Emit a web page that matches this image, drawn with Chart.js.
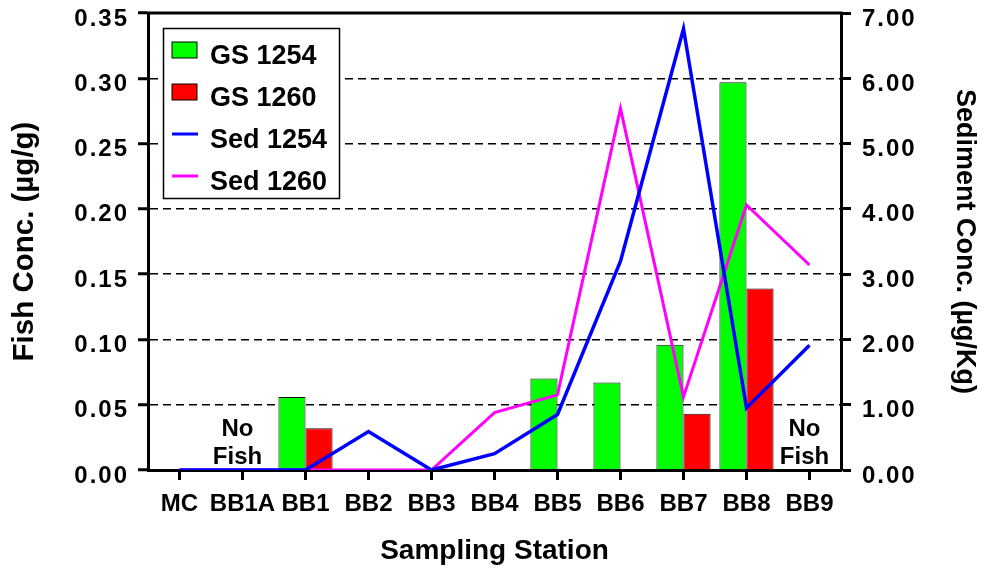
<!DOCTYPE html>
<html>
<head>
<meta charset="utf-8">
<script src="https://cdn.jsdelivr.net/npm/chart.js@4/dist/chart.umd.min.js"></script>
<style>
html,body{margin:0;padding:0;background:#fff;}
canvas{display:block;}
</style>
</head>
<body>
<canvas id="c" width="985" height="571"></canvas>
<script>
// ---- Data ----
const stations = ['MC','BB1A','BB1','BB2','BB3','BB4','BB5','BB6','BB7','BB8','BB9'];
const gs1254  = [null, null, 0.056, null, null, null, 0.070, 0.067, 0.096, 0.297, null];
const gs1260  = [null, null, 0.032, null, null, null, null,  null,  0.043, 0.139, null];
const sed1254 = [0, 0, 0, 0.59, 0, 0.25, 0.85, 3.20, 6.76, 0.95, 1.91];
const sed1260 = [0, 0, 0, 0, 0, 0.88, 1.15, 5.54, 1.12, 4.06, 3.14];
const seriesNames = ['GS 1254', 'GS 1260', 'Sed 1254', 'Sed 1260'];
const noFishStations = ['BB1A', 'BB9'];
const noFishText = ['No', 'Fish'];
const xTitle = 'Sampling Station';
const yLeftTitle = 'Fish Conc. (µg/g)';
const yRightTitle = 'Sediment Conc. (µg/Kg)';

const FONT = "'Liberation Sans', Arial, Helvetica, sans-serif";
Chart.defaults.font.family = FONT;
Chart.defaults.font.weight = 'bold';
Chart.defaults.color = '#000';

const COLORS = {gs1254:'#00ff00', gs1260:'#ff0000', sed1254:'#0000ff', sed1260:'#ff00ff'};

// letter spacing for y tick labels
const spacingPlugin = {
  id: 'spacing',
  beforeDraw(chart) {
    ['y', 'y1'].forEach(id => {
      const s = chart.scales[id];
      if (s && !s._spPatched) {
        const orig = s.drawLabels.bind(s);
        s.drawLabels = function(area) {
          const c = this.ctx; c.save(); c.letterSpacing = '2px'; orig(area); c.restore();
        };
        s._spPatched = true;
      }
    });
  }
};

// "No Fish" annotations
const noFishPlugin = {
  id: 'nofish',
  afterDatasetsDraw(chart) {
    const {ctx, scales:{x, y}} = chart;
    ctx.save();
    ctx.font = 'bold 24px ' + FONT;
    ctx.fillStyle = '#000'; ctx.textAlign = 'center'; ctx.textBaseline = 'middle';
    noFishStations.forEach(st => {
      const px = x.getPixelForValue(stations.indexOf(st)) - 5;
      ctx.fillText(noFishText[0], px, y.bottom - 41);
      ctx.fillText(noFishText[1], px, y.bottom - 13);
    });
    ctx.restore();
  }
};

// boxed legend inside plot + top frame line
const legendPlugin = {
  id: 'boxLegend',
  afterDatasetsDraw(chart) {
    const {ctx, chartArea:a} = chart;
    ctx.save();
    // top border of plot area
    ctx.fillStyle = '#000';
    ctx.fillRect(a.left - 1.5, a.top - 1.5, (a.right - a.left) + 3, 3);

    const bx = a.left + 15.5, by = a.top + 15.5, bw = 176, bh = 170;
    ctx.fillStyle = '#fff'; ctx.fillRect(bx, by, bw, bh);
    ctx.strokeStyle = '#000'; ctx.lineWidth = 1.5; ctx.strokeRect(bx, by, bw, bh);
    const items = [
      {name: seriesNames[0], kind:'box', color: COLORS.gs1254},
      {name: seriesNames[1], kind:'box', color: COLORS.gs1260},
      {name: seriesNames[2], kind:'line', color: COLORS.sed1254},
      {name: seriesNames[3], kind:'line', color: COLORS.sed1260}
    ];
    ctx.font = 'bold 27px ' + FONT;
    ctx.textBaseline = 'alphabetic'; ctx.textAlign = 'left';
    items.forEach((it, i) => {
      const base = by + 35.5 + i * 42;
      const cy = base - 14;
      if (it.kind === 'box') {
        ctx.fillStyle = it.color; ctx.fillRect(bx + 8.5, cy - 8, 25, 16);
        ctx.strokeStyle = '#000'; ctx.lineWidth = 1; ctx.strokeRect(bx + 8.5, cy - 8, 25, 16);
      } else {
        ctx.strokeStyle = it.color; ctx.lineWidth = 3;
        ctx.beginPath(); ctx.moveTo(bx + 8.5, cy); ctx.lineTo(bx + 34.5, cy); ctx.stroke();
      }
      ctx.fillStyle = '#000';
      ctx.fillText(it.name, bx + 46.5, base);
    });
    ctx.restore();
  }
};

const near = (a, b) => Math.abs(a - b) < 1e-9;
const noPad = s => { s.paddingTop = 0; s.paddingBottom = 0; };

new Chart(document.getElementById('c'), {
  type: 'bar',
  data: {
    labels: stations,
    datasets: [
      {type:'line', label: seriesNames[2], data: sed1254, yAxisID:'y1', borderColor: COLORS.sed1254,
       backgroundColor: COLORS.sed1254, borderWidth: 3.5, pointRadius: 0, tension: 0, fill: false, order: 0},
      {type:'line', label: seriesNames[3], data: sed1260, yAxisID:'y1', borderColor: COLORS.sed1260,
       backgroundColor: COLORS.sed1260, borderWidth: 3, pointRadius: 0, tension: 0, fill: false, order: 1},
      {type:'bar', label: seriesNames[0], data: gs1254, yAxisID:'y', backgroundColor: COLORS.gs1254,
       borderColor:'#111', borderWidth: 1, categoryPercentage: 0.86, barPercentage: 1, order: 2},
      {type:'bar', label: seriesNames[1], data: gs1260, yAxisID:'y', backgroundColor: COLORS.gs1260,
       borderColor:'#111', borderWidth: 1, categoryPercentage: 0.86, barPercentage: 1, order: 2}
    ]
  },
  options: {
    responsive: false,
    animation: false,
    devicePixelRatio: 1,
    layout: {padding: {top: 13, left: 0, right: 0, bottom: 0}, autoPadding: false},
    plugins: {legend: {display: false}, tooltip: {enabled: false}},
    scales: {
      x: {
        offset: true,
        grid: {offset: false, drawOnChartArea: false, tickLength: 10, tickWidth: 3, tickColor: '#000'},
        border: {color: '#000', width: 3},
        ticks: {autoSkip: false, maxRotation: 0, padding: 10, font: {size: 24, weight: 'bold'}},
        title: {display: true, text: xTitle, font: {size: 28, weight: 'bold'}, padding: {top: 0, bottom: 3}},
        afterFit(s) { s.height = 101; s.paddingLeft = 0; s.paddingRight = 0; }
      },
      y: {
        position: 'left', min: 0, max: 0.35,
        ticks: {stepSize: 0.05, callback: v => Number(v).toFixed(2), padding: 9, labelOffset: 6,
                font: {size: 24, weight: 'bold'}},
        grid: {
          color: c => (near(c.tick.value, 0) || near(c.tick.value, 0.35)) ? 'rgba(0,0,0,0)' : '#000',
          lineWidth: 1.5, tickLength: 10, tickWidth: 3, tickColor: '#000', tickBorderDash: []
        },
        border: {color: '#000', width: 3, dash: [8, 5]},
        title: {display: true, text: yLeftTitle, font: {size: 29.5, weight: 'bold'}, padding: {top: 7, bottom: 0}},
        afterFit(s) { s.width = 148; noPad(s); }
      },
      y1: {
        position: 'right', min: 0, max: 7,
        ticks: {stepSize: 1, callback: v => Number(v).toFixed(2), padding: 11, labelOffset: 6,
                font: {size: 24, weight: 'bold'}},
        grid: {drawOnChartArea: false, tickLength: 10, tickWidth: 3, tickColor: '#000'},
        border: {color: '#000', width: 3},
        title: {display: true, text: yRightTitle, font: {size: 27, weight: 'bold'}, padding: {top: 4, bottom: 0}},
        afterFit(s) { s.width = 144; noPad(s); }
      }
    }
  },
  plugins: [spacingPlugin, noFishPlugin, legendPlugin]
});
</script>
</body>
</html>
